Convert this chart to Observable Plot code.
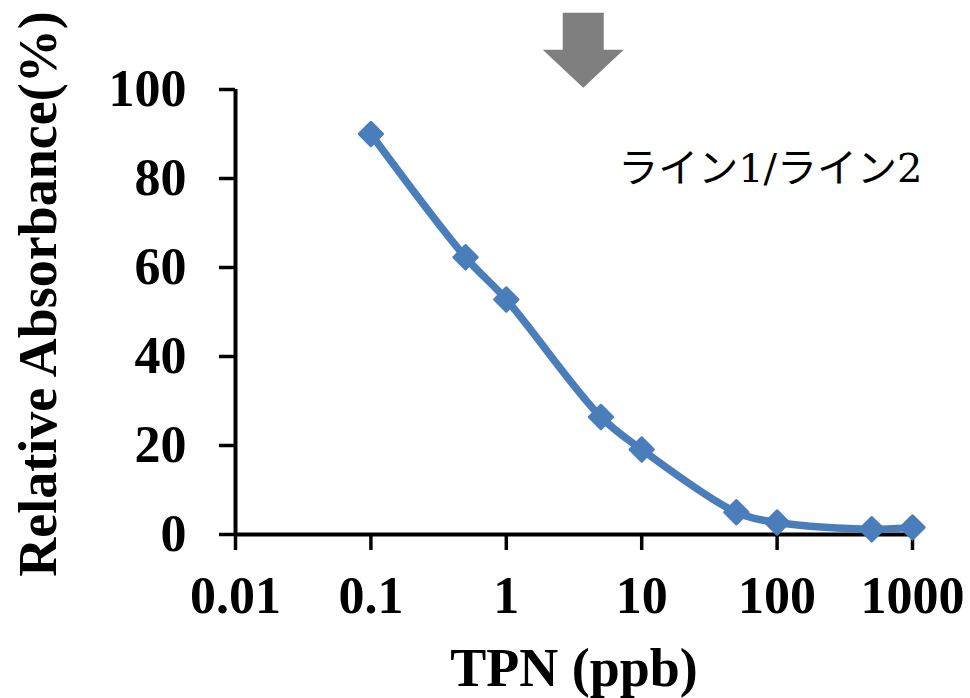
<!DOCTYPE html>
<html>
<head>
<meta charset="utf-8">
<script src="https://cdn.jsdelivr.net/npm/d3@7"></script>
<script src="https://cdn.jsdelivr.net/npm/@observablehq/plot@0.6"></script>
<style>
  html, body { margin: 0; padding: 0; background: #fff; }
</style>
</head>
<body>
<div id="chart"></div>
<script>
// Data
const concentrations = [0.1, 0.5, 1, 5, 10, 50, 100, 500, 1000];
const absorbance = [90, 62.3, 52.8, 26.4, 19.1, 5.0, 2.7, 1.2, 1.6];
const xTicks = [0.01, 0.1, 1, 10, 100, 1000];
const yTicks = [0, 20, 40, 60, 80, 100];
const xLabel = "TPN (ppb)";
const yLabel = "Relative Absorbance(%)";
// Annotations
const noteText = ["ライン1/ライン2"];
const noteX = [6.7];
const noteY = [82];
const arrowX = [3.7];
const arrowY = [100.4];

const data = concentrations.map((c, i) => ({x: c, y: absorbance[i]}));
const notes = noteText.map((t, i) => ({text: t, x: noteX[i], y: noteY[i]}));
const arrows = arrowX.map((x, i) => ({x, y: arrowY[i]}));

const blue = "#4a7ebb";

// Block arrow pointing down; tip at the anchor point
const blockArrow = {
  draw(ctx) {
    ctx.moveTo(0, 0);
    ctx.lineTo(40.5, -38);
    ctx.lineTo(20.5, -38);
    ctx.lineTo(20.5, -75);
    ctx.lineTo(-20.5, -75);
    ctx.lineTo(-20.5, -38);
    ctx.lineTo(-40.5, -38);
    ctx.closePath();
  }
};

const plot = Plot.plot({
  width: 970,
  height: 698,
  marginLeft: 235,
  marginRight: 58,
  marginTop: 89,
  marginBottom: 164,
  style: {
    fontFamily: "'Liberation Serif', 'Times New Roman', serif",
    fontSize: "52px",
    fontWeight: "bold",
    color: "#000",
    background: "#fff"
  },
  x: {type: "log", domain: [0.01, 1000]},
  y: {domain: [0, 100]},
  marks: [
    Plot.axisX({
      ticks: xTicks,
      tickFormat: d => String(d),
      tickSize: 16,
      tickPadding: 26,
      strokeWidth: 3.5,
      label: null
    }),
    Plot.axisY({
      ticks: yTicks,
      tickFormat: d => String(d),
      tickSize: 16,
      tickPadding: 33,
      strokeWidth: 3.5,
      label: null
    }),
    Plot.ruleY([0], {stroke: "#000", strokeWidth: 4}),
    Plot.ruleX([0.01], {stroke: "#000", strokeWidth: 4}),
    Plot.line(data, {
      x: "x", y: "y",
      curve: "catmull-rom",
      stroke: blue,
      strokeWidth: 7.5,
      strokeLinejoin: "round",
      strokeLinecap: "round"
    }),
    Plot.dot(data, {
      x: "x", y: "y",
      symbol: "diamond2",
      r: 10.5,
      fill: blue,
      stroke: blue,
      strokeWidth: 3,
      strokeLinejoin: "round"
    }),
    Plot.dot(arrows, {
      x: "x", y: "y",
      symbol: blockArrow,
      fill: "#7f7f7f",
      stroke: "none"
    }),
    Plot.text(notes, {
      x: "x", y: "y", text: "text",
      textAnchor: "start",
      fontSize: 40,
      fontWeight: "normal",
      fontFamily: "'DejaVu Serif', 'Noto Sans CJK JP', serif",
      fill: "#000"
    }),
    Plot.text([xLabel], {
      frameAnchor: "bottom",
      textAnchor: "middle",
      lineAnchor: "middle",
      dy: 134,
      fontSize: 54,
      fontWeight: "bold",
      fill: "#000"
    }),
    Plot.text([yLabel], {
      frameAnchor: "left",
      textAnchor: "middle",
      lineAnchor: "middle",
      rotate: -90,
      dx: -197,
      dy: -18,
      fontSize: 54,
      fontWeight: "bold",
      fill: "#000"
    })
  ]
});

document.getElementById("chart").appendChild(plot);
</script>
</body>
</html>
